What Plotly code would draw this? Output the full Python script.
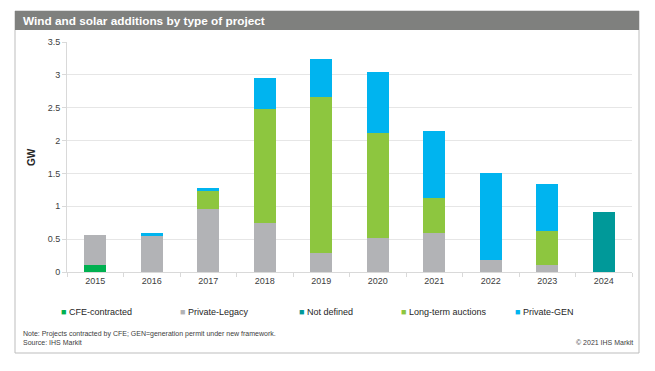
import plotly.graph_objects as go

years = ["2015", "2016", "2017", "2018", "2019", "2020", "2021", "2022", "2023", "2024"]
cfe_contracted = [0.10, 0, 0, 0, 0, 0, 0, 0, 0, 0]
private_legacy = [0.46, 0.55, 0.96, 0.74, 0.29, 0.51, 0.59, 0.18, 0.11, 0]
not_defined = [0, 0, 0, 0, 0, 0, 0, 0, 0, 0.91]
long_term_auctions = [0, 0, 0.28, 1.74, 2.37, 1.61, 0.53, 0, 0.51, 0]
private_gen = [0, 0.05, 0.04, 0.47, 0.58, 0.92, 1.03, 1.32, 0.72, 0]

series_names = ["CFE-contracted", "Private-Legacy", "Not defined", "Long-term auctions", "Private-GEN"]
series_values = [cfe_contracted, private_legacy, not_defined, long_term_auctions, private_gen]
series_colors = ["#00B050", "#B2B3B6", "#009999", "#8DC63F", "#00B4EF"]

y_ticks = [0, 0.5, 1, 1.5, 2, 2.5, 3, 3.5]
y_tick_labels = ["0", "0.5", "1", "1.5", "2", "2.5", "3", "3.5"]

FONT = "Liberation Sans, Arial, sans-serif"

fig = go.Figure()
for name, vals, col in zip(series_names, series_values, series_colors):
    fig.add_trace(go.Bar(x=years, y=vals, name=name, marker_color=col,
                         marker_line_width=0, width=0.39, showlegend=False))

# page body has an 8px margin; target coordinates are in window pixels
OFF = 8
W, H = 647, 363
L, T = 67 - OFF, 42 - OFF
R = W - (632 - OFF)
B = H - (272 - OFF)
pw, ph = W - L - R, H - T - B

def px(x):
    return (x - OFF - L) / pw

def py(y):
    return (H - B - (y - OFF)) / ph

shapes = [
    dict(type="rect", xref="paper", yref="paper", x0=px(15), x1=px(639), y0=py(353), y1=py(11),
         line=dict(color="#BDBDBD", width=1), fillcolor="rgba(0,0,0,0)", layer="below"),
    dict(type="rect", xref="paper", yref="paper", x0=px(15), x1=px(639), y0=py(30), y1=py(11),
         line=dict(width=0), fillcolor="#7F807E", layer="below"),
]

annotations = [
    dict(text="<b>Wind and solar additions by type of project</b>", xref="paper", yref="paper",
         x=px(21), y=py(21), xanchor="left", yanchor="middle", showarrow=False,
         font=dict(family=FONT, size=11.8, color="white")),
    dict(text="<b>GW</b>", xref="paper", yref="paper", x=px(31), y=py(157), textangle=-90,
         xanchor="center", yanchor="middle", showarrow=False,
         font=dict(family=FONT, size=10, color="#262626")),
    dict(text="Note: Projects contracted by CFE; GEN=generation permit under new framework.<br>Source: IHS Markit",
         xref="paper", yref="paper", x=px(21), y=py(338), xanchor="left", yanchor="middle",
         align="left", showarrow=False, font=dict(family=FONT, size=7, color="#404040")),
    dict(text="© 2021 IHS Markit", xref="paper", yref="paper", x=px(635), y=py(342),
         xanchor="right", yanchor="middle", showarrow=False,
         font=dict(family=FONT, size=7, color="#404040")),
]

legend_x = [59, 178, 297, 399, 513]
for name, col, lx in zip(series_names, series_colors, legend_x):
    annotations.append(dict(
        text=f"<span style='color:{col}'>■</span> {name}", xref="paper", yref="paper",
        x=px(lx), y=py(312), xanchor="left", yanchor="middle", showarrow=False,
        font=dict(family=FONT, size=9, color="#262626")))

fig.update_layout(
    barmode="stack",
    width=W, height=H,
    margin=dict(l=L, r=R, t=T, b=B, pad=0),
    paper_bgcolor="white", plot_bgcolor="white",
    font=dict(family=FONT, size=9, color="#404040"),
    shapes=shapes, annotations=annotations,
    xaxis=dict(type="category", showline=True, linecolor="#D9D9D9", linewidth=1,
               ticks="outside", tickson="boundaries", ticklen=4, tickcolor="#D9D9D9",
               tickfont=dict(family=FONT, size=9, color="#404040"), showgrid=False),
    yaxis=dict(range=[0, 3.5], tickvals=y_ticks, ticktext=y_tick_labels, showline=True,
               linecolor="#D9D9D9", linewidth=1, ticks="outside", ticklen=4, tickcolor="#D9D9D9",
               gridcolor="#E6E6E6", gridwidth=1, zeroline=False,
               tickfont=dict(family=FONT, size=9, color="#404040")),
    showlegend=False,
)

fig.write_html("out.html")
